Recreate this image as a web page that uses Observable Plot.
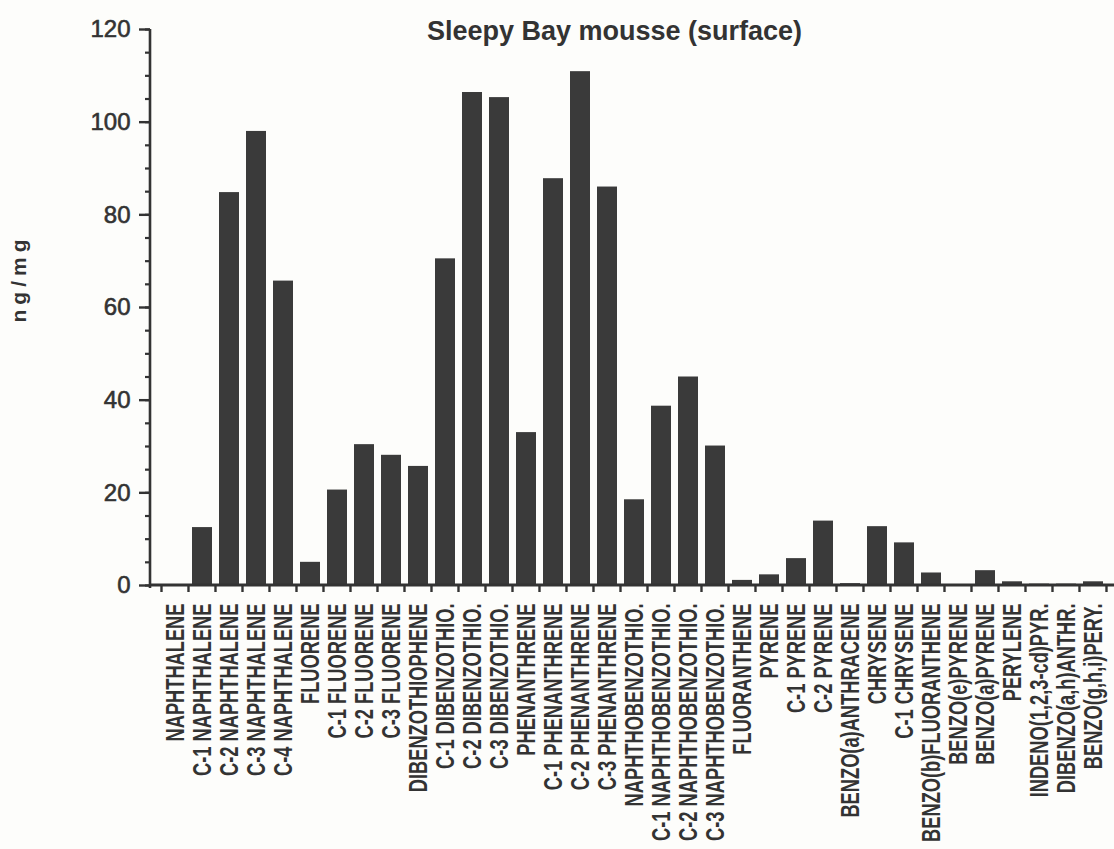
<!DOCTYPE html>
<html>
<head>
<meta charset="utf-8">
<script src="https://cdn.jsdelivr.net/npm/d3@7"></script>
<script src="https://cdn.jsdelivr.net/npm/@observablehq/plot@0.6"></script>
<style>
  html, body { margin: 0; padding: 0; background: #fdfdfb; }
  #chart { width: 1114px; height: 849px; overflow: hidden; }
</style>
</head>
<body>
<div id="chart"></div>
<script>
const title = "Sleepy Bay mousse (surface)";
const yLabel = "ng/mg";
const categories = [
  "NAPHTHALENE", "C-1 NAPHTHALENE", "C-2 NAPHTHALENE", "C-3 NAPHTHALENE", "C-4 NAPHTHALENE",
  "FLUORENE", "C-1 FLUORENE", "C-2 FLUORENE", "C-3 FLUORENE",
  "DIBENZOTHIOPHENE", "C-1 DIBENZOTHIO.", "C-2 DIBENZOTHIO.", "C-3 DIBENZOTHIO.",
  "PHENANTHRENE", "C-1 PHENANTHRENE", "C-2 PHENANTHRENE", "C-3 PHENANTHRENE",
  "NAPHTHOBENZOTHIO.", "C-1 NAPHTHOBENZOTHIO.", "C-2 NAPHTHOBENZOTHIO.", "C-3 NAPHTHOBENZOTHIO.",
  "FLUORANTHENE", "PYRENE", "C-1 PYRENE", "C-2 PYRENE",
  "BENZO(a)ANTHRACENE", "CHRYSENE", "C-1 CHRYSENE", "BENZO(b)FLUORANTHENE",
  "BENZO(e)PYRENE", "BENZO(a)PYRENE", "PERYLENE",
  "INDENO(1,2,3-cd)PYR.", "DIBENZO(a,h)ANTHR.", "BENZO(g,h,i)PERY."
];
const values = [
  0, 12.5, 84.8, 98.0, 65.7,
  5.0, 20.6, 30.4, 28.1,
  25.7, 70.5, 106.4, 105.3,
  33.0, 87.8, 110.9, 86.0,
  18.5, 38.7, 45.0, 30.1,
  1.1, 2.3, 5.8, 13.9,
  0.4, 12.7, 9.2, 2.7,
  0, 3.2, 0.8,
  0.3, 0.3, 0.8
];
const yTicks = [0, 20, 40, 60, 80, 100, 120];
const yMinorTicks = [0, 5, 10, 15, 20, 25, 30, 35, 40, 45, 50, 55, 60, 65, 70, 75, 80, 85, 90, 95, 100, 105, 110, 115, 120];

const data = categories.map((name, i) => ({name, value: values[i]}));
const ink = "#333333";
const barFill = "#3a3a3a";
const pad = 0.26;

function axisLines(index, scales, values, dims) {
  const {x, y} = scales;
  const g = d3.create("svg:g").attr("stroke", ink).attr("fill", "none");
  const step = x(categories[1]) - x(categories[0]);
  const bw = step * (1 - pad);
  const off = (step - bw) / 2;
  const y0 = y(0);
  const bounds = categories.map(c => x(c) - off);
  bounds.push(x(categories[categories.length - 1]) + bw + off);
  g.append("line").attr("x1", dims.marginLeft).attr("x2", dims.marginLeft)
    .attr("y1", y(120)).attr("y2", y0 + 3).attr("stroke-width", 2.6);
  g.append("line").attr("x1", dims.marginLeft).attr("x2", dims.width)
    .attr("y1", y0).attr("y2", y0).attr("stroke-width", 3);
  for (const b of bounds) {
    g.append("line").attr("x1", b).attr("x2", b).attr("y1", y0).attr("y2", y0 + 7).attr("stroke-width", 2.4);
  }
  return g.node();
}

const plot = Plot.plot({
  width: 1114,
  height: 849,
  marginLeft: 150,
  marginRight: 0,
  marginTop: 29,
  marginBottom: 264,
  style: {fontFamily: "'Liberation Sans', Arial, sans-serif", background: "#fdfdfb", color: ink},
  x: {type: "band", domain: categories, range: [150, 1117], paddingInner: pad, paddingOuter: pad / 2, axis: null},
  y: {domain: [0, 120], axis: null},
  marks: [
    Plot.barY(data, {x: "name", y: "value", fill: barFill}),
    Plot.axisY({ticks: yMinorTicks, tickSize: 5, tickFormat: () => "", strokeWidth: 2.2, stroke: ink, label: null}),
    Plot.axisY({ticks: yTicks, tickSize: 11, tickPadding: 9, fontSize: 24, strokeWidth: 2.4, stroke: ink, fill: ink, label: null}),
    Plot.axisX({tickRotate: -90, tickSize: 0, tickPadding: 18, fontSize: 21, fontWeight: "bold", fill: ink, label: null}),
    axisLines,
    Plot.text([title], {frameAnchor: "top", dx: -18, dy: 2, lineAnchor: "middle", fontSize: 27, fontWeight: "bold", fill: ink}),
    Plot.text([yLabel], {frameAnchor: "left", dx: -131, dy: -29, rotate: -90, textAnchor: "middle", fontSize: 21, fontWeight: "bold", fill: ink})
  ]
});

// condense the x tick labels along their reading direction, thicken across it
d3.select(plot).selectAll('g[aria-label="x-axis tick label"] text').each(function() {
  const t = this.getAttribute("transform") || "";
  this.setAttribute("transform", t + " scale(0.87,1.2)");
});
// slightly heavier y tick labels
d3.select(plot).selectAll('g[aria-label="y-axis tick label"] text')
  .style("stroke", ink).style("stroke-width", "0.6px");
d3.select(plot).selectAll('g[aria-label="text"] text').filter(function() { return this.textContent === yLabel; })
  .style("font-size", "21px").style("letter-spacing", "5px");

document.getElementById("chart").appendChild(plot);
</script>
</body>
</html>
